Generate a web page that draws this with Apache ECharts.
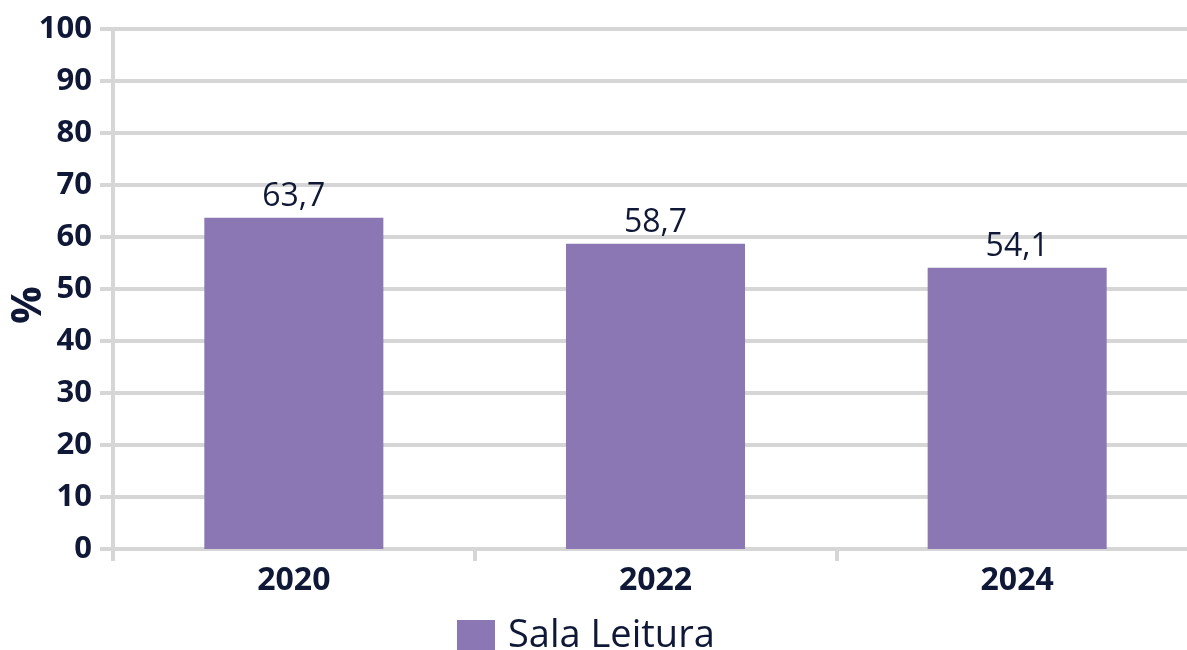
<!DOCTYPE html>
<html>
<head>
<meta charset="utf-8">
<script src="https://cdn.jsdelivr.net/npm/echarts@6/dist/echarts.min.js"></script>
<style>
  html, body { margin: 0; padding: 0; background: #fff; }
  #chart { width: 1187px; height: 650px; }
</style>
</head>
<body>
<div id="chart"></div>
<script>
var years = ['2020', '2022', '2024']
var salaLeitura = [63.7, 58.7, 54.1]
var yTicks = { min: 0, max: 100, interval: 10 }

var textColor = '#0f1836'
var gridColor = '#d6d6d6'
var font = '"Open Sans", "Noto Sans", sans-serif'

var myChart = echarts.init(document.getElementById('chart'))
myChart.setOption({
    animation: false,
    textStyle: { fontFamily: font },
    grid: { left: 113, width: 1085, top: 29, height: 520, containLabel: false, outerBoundsMode: 'none' },
    legend: {
        left: 452,
        top: 612,
        itemWidth: 38,
        itemHeight: 32,
        itemGap: 10,
        icon: 'rect',
        textStyle: { color: textColor, fontSize: 38, fontFamily: font, padding: [0, 0, 0, 8] },
        data: ['Sala Leitura']
    },
    xAxis: {
        type: 'category',
        data: years,
        axisLine: { show: true, lineStyle: { color: gridColor, width: 4 } },
        axisTick: { show: true, length: 12, lineStyle: { color: gridColor, width: 4 } },
        axisLabel: { color: textColor, fontSize: 32, fontWeight: 'bold', margin: 16, fontFamily: font }
    },
    yAxis: {
        type: 'value',
        min: yTicks.min,
        max: yTicks.max,
        interval: yTicks.interval,
        name: '%',
        nameLocation: 'middle',
        nameGap: 63,
        nameRotate: 90,
        nameMoveOverlap: false,
        nameTextStyle: { color: textColor, fontSize: 42, fontWeight: 'bold', fontFamily: font, padding: [0, 32, 0, 0] },
        axisLine: { show: true, lineStyle: { color: gridColor, width: 4 } },
        axisTick: { show: true, length: 13, lineStyle: { color: gridColor, width: 4 } },
        splitLine: { show: true, lineStyle: { color: gridColor, width: 4 } },
        axisLabel: { color: textColor, fontSize: 31, fontWeight: 'bold', margin: 21, fontFamily: font }
    },
    series: [{
        name: 'Sala Leitura',
        type: 'bar',
        data: salaLeitura,
        barWidth: '49.5%',
        itemStyle: { color: '#8b77b4' },
        label: {
            show: true,
            position: 'top',
            distance: 5,
            color: textColor,
            fontSize: 32,
            fontFamily: font,
            formatter: function (p) { return String(p.value).replace('.', ',') }
        }
    }]
})
</script>
</body>
</html>
